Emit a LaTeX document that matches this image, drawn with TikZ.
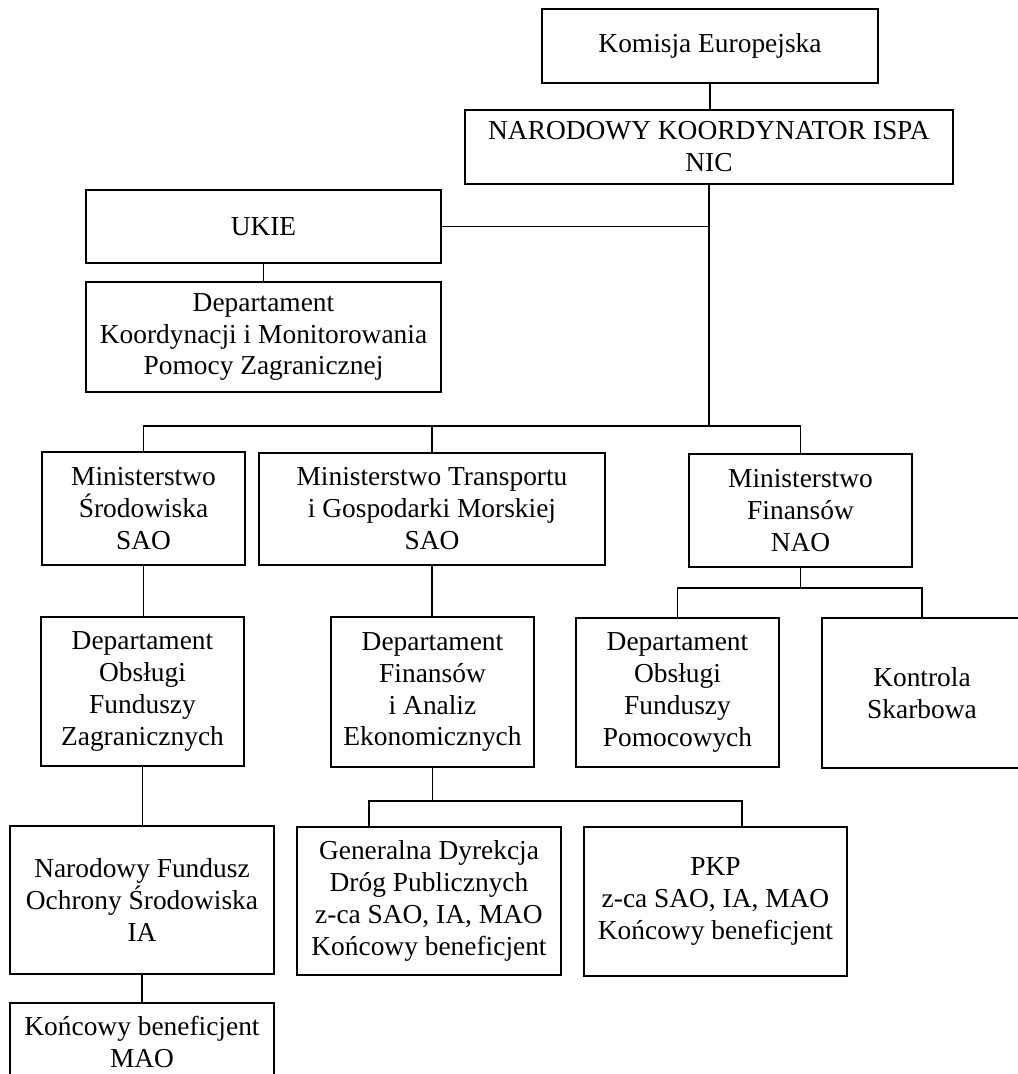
\documentclass[tikz,border=0pt]{standalone}
\usepackage{fontspec}
\setmainfont{Liberation Serif}

\tikzset{
  unit/.style={draw, line width=0.8pt, align=center, inner sep=2pt,
    font=\fontsize{15.6}{18.2}\selectfont},
  link/.style={line width=0.8pt}
}

\begin{document}
\begin{tikzpicture}[x=0.02cm, y=-0.02cm]
  \useasboundingbox (0,0) rectangle (1017,1074);

  % --- top level ---
  \node[unit, minimum width=6.72cm, minimum height=1.48cm] (kom) at (710,46) {Komisja Europejska};
  \node[unit, minimum width=9.76cm, minimum height=1.48cm] (nic) at (709,147) {NARODOWY KOORDYNATOR ISPA\\NIC};
  \node[unit, minimum width=7.1cm, minimum height=1.46cm] (ukie) at (263.5,226.5) {UKIE};
  \node[unit, minimum width=7.1cm, minimum height=2.2cm] (dkm) at (263.5,337) {Departament\\Koordynacji i Monitorowania\\Pomocy Zagranicznej};

  % --- ministries ---
  \node[unit, minimum width=4.06cm, minimum height=2.26cm] (msr) at (143.5,508.5) {Ministerstwo\\Środowiska\\SAO};
  \node[unit, minimum width=6.92cm, minimum height=2.24cm] (mtr) at (432,509) {Ministerstwo Transportu\\i Gospodarki Morskiej\\SAO};
  \node[unit, minimum width=4.46cm, minimum height=2.26cm] (mfi) at (800.5,510.5) {Ministerstwo\\Finansów\\NAO};

  % --- departments ---
  \node[unit, minimum width=4.06cm, minimum height=2.98cm] (dofz) at (142.5,691.5) {Departament\\Obsługi\\Funduszy\\Zagranicznych};
  \node[unit, minimum width=4.06cm, minimum height=3cm] (dfae) at (432.5,692) {Departament\\Finansów\\i Analiz\\Ekonomicznych};
  \node[unit, minimum width=4.06cm, minimum height=2.98cm] (dofp) at (677.5,692.5) {Departament\\Obsługi\\Funduszy\\Pomocowych};
  \node[unit, minimum width=4cm, minimum height=3cm] (ks) at (922,693) {Kontrola\\Skarbowa};

  % --- bottom level ---
  \node[unit, minimum width=5.28cm, minimum height=2.96cm] (nfos) at (142,900) {Narodowy Fundusz\\Ochrony Środowiska\\IA};
  \node[unit, minimum width=5.28cm, minimum height=2.96cm] (gddp) at (429,901) {Generalna Dyrekcja\\Dróg Publicznych\\z-ca SAO, IA, MAO\\Końcowy beneficjent};
  \node[unit, minimum width=5.26cm, minimum height=2.98cm] (pkp) at (715.5,901.5) {PKP\\z-ca SAO, IA, MAO\\Końcowy beneficjent};
  \node[unit, minimum width=5.28cm, minimum height=1.56cm] (kbm) at (142,1042) {Końcowy beneficjent\\MAO};

  % --- straight links: upper box to lower box ---
  \foreach \a/\b in {kom/nic, ukie/dkm, msr/dofz, dofz/nfos, nfos/kbm, mtr/dfae} {
    \draw[link] (\a.south) -- (\a.south |- \b.north);
  }

  % --- main trunk and ministries bus ---
  \coordinate (bus) at (706,426);
  \draw[link] (nic.south) -- (nic.south |- bus);
  \draw[link] (ukie.east) -- (ukie.east -| nic.south);
  \draw[link] (msr.north) |- (mfi.north |- bus) -- (mfi.north);
  \draw[link] (mtr.north) -- (mtr.north |- bus);

  % --- Ministerstwo Finansow branch ---
  \coordinate (mf) at (800,588);
  \draw[link] (mfi.south) -- (mfi.south |- mf);
  \draw[link] (dofp.north) |- (mf) -| (ks.north);

  % --- GDDP / PKP branch ---
  \coordinate (dl) at (369,801);
  \coordinate (dr) at (742,801);
  \draw[link] (dfae.south) -- (dfae.south |- dl);
  \draw[link] (dl |- gddp.north) -- (dl) -- (dr) -- (dr |- pkp.north);
\end{tikzpicture}
\end{document}
